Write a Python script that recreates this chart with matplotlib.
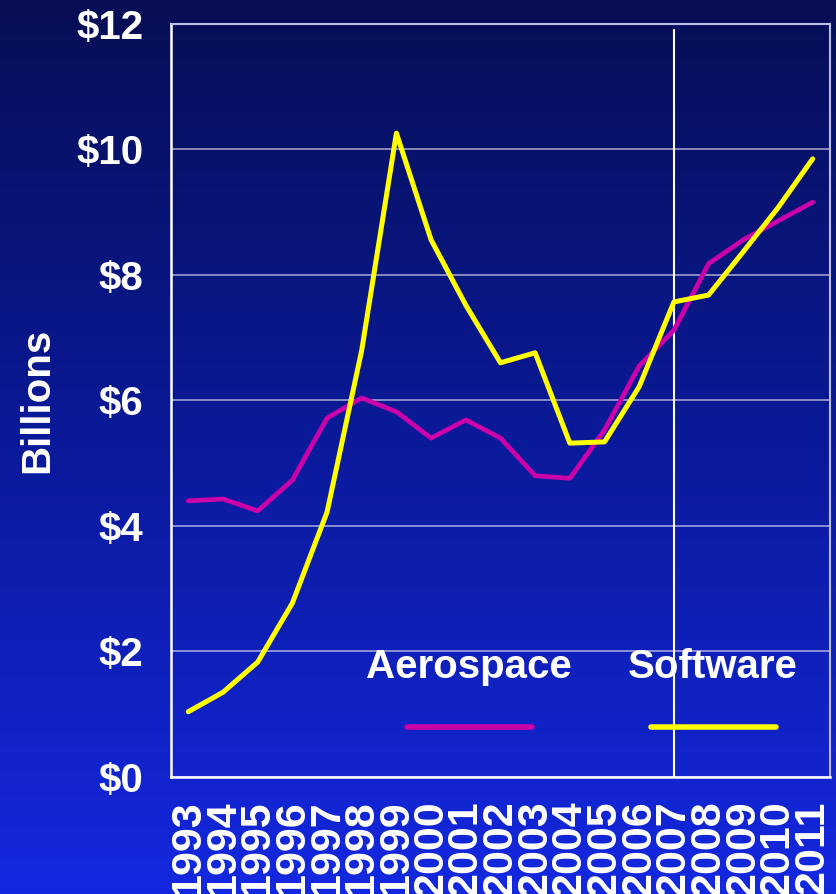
import numpy as np
import matplotlib.pyplot as plt
from matplotlib.colors import LinearSegmentedColormap

# --- DATA ---
years = [str(y) for y in range(1993, 2012)]
aerospace = [4.40, 4.43, 4.24, 4.73, 5.72, 6.04, 5.82, 5.40, 5.69, 5.40,
             4.80, 4.76, 5.53, 6.55, 7.12, 8.18, 8.56, 8.86, 9.16]
software = [1.04, 1.35, 1.83, 2.77, 4.22, 6.80, 10.26, 8.56, 7.52, 6.60,
            6.76, 5.32, 5.34, 6.22, 7.57, 7.68, 8.37, 9.07, 9.85]
y_ticks = [0, 2, 4, 6, 8, 10, 12]
y_labels = ['$0', '$2', '$4', '$6', '$8', '$10', '$12']

plt.rcParams['font.family'] = ['Liberation Sans', 'DejaVu Sans']
plt.rcParams['font.weight'] = 'bold'

fig = plt.figure(figsize=(8.36, 8.94), dpi=100)

# gradient background
bg = fig.add_axes([0, 0, 1, 1], zorder=-10)
cmap = LinearSegmentedColormap.from_list('bg', ['#070e55', '#0b1a9a', '#1428e0'])
grad = np.linspace(0, 1, 256).reshape(-1, 1)
bg.imshow(grad, aspect='auto', cmap=cmap, extent=[0, 1, 0, 1], origin='upper')
bg.axis('off')

ax = fig.add_axes([0.2045, 0.1309, 0.7883, 0.8423])
ax.patch.set_alpha(0)

x = np.arange(len(years))
ax.plot(x, aerospace, color='#cc00aa', lw=3.4, solid_capstyle='round', zorder=3)
ax.plot(x, software, color='#ffff00', lw=3.6, solid_capstyle='round', zorder=4)

ax.set_xlim(-0.5, len(years) - 0.5)
ax.set_ylim(0, 12)
ax.set_yticks(y_ticks)
ax.set_yticklabels(y_labels)
ax.set_xticks(x)
ax.set_xticklabels(years, rotation=90)
ax.tick_params(axis='both', length=0, colors='white', labelsize=29)
ax.tick_params(axis='x', labelsize=31, pad=17)
ax.tick_params(axis='y', pad=20)
for lab in ax.get_xticklabels() + ax.get_yticklabels():
    lab.set_fontweight('bold')

ax.yaxis.grid(True, color='white', alpha=0.55, lw=1.3)
ax.set_axisbelow(True)
ax.axvline(14, ymax=0.992, color='white', lw=1.5, zorder=2)

for side in ['left', 'bottom']:
    ax.spines[side].set_color('white')
    ax.spines[side].set_linewidth(1.8)
for side in ['top', 'right']:
    ax.spines[side].set_color('#b8bce8')
    ax.spines[side].set_linewidth(1.5)

ax.set_ylabel('Billions', color='white', fontsize=29, fontweight='bold', labelpad=14)

# hand-made legend
ax.text(8.1, 1.75, 'Aerospace', color='white', fontsize=29, fontweight='bold',
        ha='center', va='center')
ax.text(15.12, 1.75, 'Software', color='white', fontsize=29, fontweight='bold',
        ha='center', va='center')
ax.plot([6.3, 9.9], [0.8, 0.8], color='#cc00aa', lw=4, solid_capstyle='round')
ax.plot([13.35, 16.95], [0.8, 0.8], color='#ffff00', lw=4, solid_capstyle='round')

fig.savefig('out.png', dpi=100)
